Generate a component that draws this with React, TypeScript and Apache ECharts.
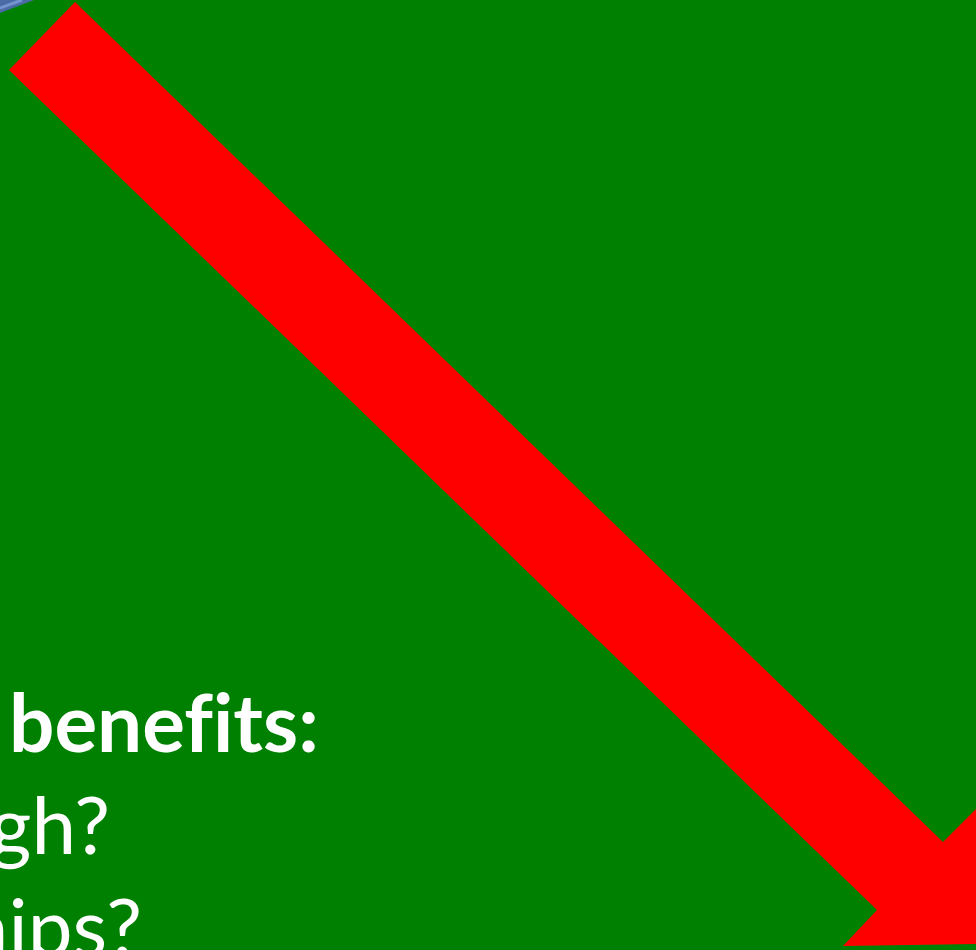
import React, { useEffect, useRef } from "react";
import * as echarts from "echarts";

// Text lines visible on the slide fragment
const textLines = ["benefits:", "gh?", "hips?"];
const textWeights = ["bold", "normal", "normal"];

// Colours
const BG = "#008000";
const ARROW = "#FF0000";
const BLUE_DARK = "#4A6BA6";
const BLUE_LIGHT = "#7394CC";

export default function App() {
  const ref = useRef<HTMLDivElement>(null);
  useEffect(() => {
    document.body.style.margin = "0";
    const chart = echarts.init(ref.current!, null, { renderer: "svg" });
    const fontSize = 80;
    const fam = "Lato, 'Open Sans', sans-serif";
    const off = 0.387 * fontSize; // baseline offset from 'middle'
    const baselines = [752, 854, 956];
    const anchors: any[] = [
      { x: 9, align: "left" },
      { x: 110, align: "right" },
      { x: 142, align: "right" },
    ];
    const texts = textLines.map((t, i) => ({
      type: "text",
      z: 10,
      style: {
        text: t,
        x: anchors[i].x,
        y: baselines[i] - off,
        align: anchors[i].align,
        verticalAlign: "middle",
        font: `${textWeights[i]} ${fontSize}px ${fam}`,
        fill: "#FFFFFF",
      },
    }));
    chart.setOption({
      animation: false,
      backgroundColor: BG,
      graphic: [
        {
          type: "polygon",
          z: 1,
          shape: { points: [[0, 0], [34, 0], [0, 13]] },
          style: { fill: BLUE_DARK },
        },
        {
          type: "line",
          z: 2,
          shape: { x1: 0, y1: 8, x2: 22, y2: 0 },
          style: { stroke: BLUE_LIGHT, lineWidth: 3 },
        },
        {
          type: "polygon",
          z: 5,
          shape: {
            points: [
              [75, 2],
              [943, 842],
              [978, 807],
              [980, 944],
              [843, 946],
              [877, 910],
              [9, 70],
            ],
          },
          style: { fill: ARROW },
        },
        ...texts,
      ],
    });
    return () => chart.dispose();
  }, []);
  return (
    <>
      <style>{"text{font-variant-ligatures:none !important;font-feature-settings:'liga' 0 !important;}"}</style>
      <div
        ref={ref}
        style={{ position: "fixed", left: 0, top: 0, width: 976, height: 950 }}
      />
    </>
  );
}
